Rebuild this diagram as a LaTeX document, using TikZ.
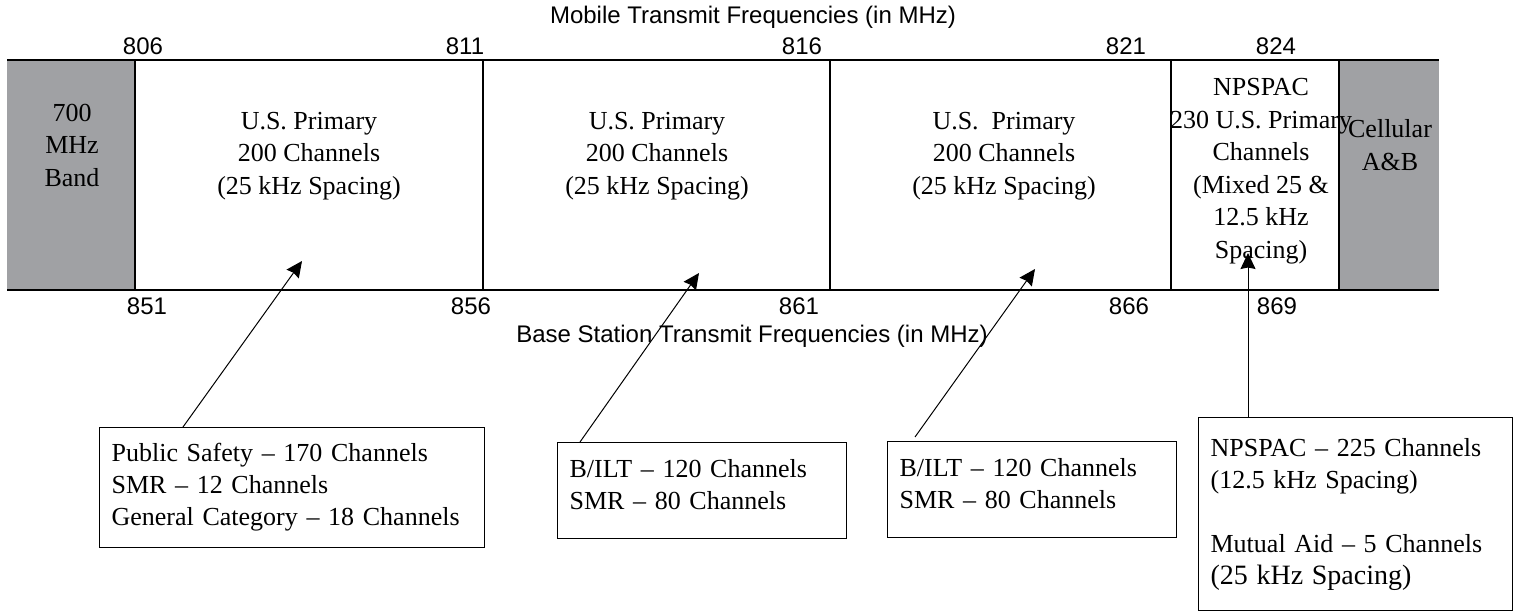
\documentclass[tikz,border=0pt]{standalone}
\usepackage{fontspec}
\setmainfont{Liberation Serif}
\newfontfamily\freqfont{Liberation Sans}
\usetikzlibrary{arrows.meta}
\definecolor{bandgray}{RGB}{160,161,164}
\tikzstyle{arr}=[-{Stealth[length=16pt,width=15pt,inset=1.5pt]},line width=1pt]
\tikzstyle{frame}=[line width=1.2pt]
\tikzstyle{freq}=[font=\freqfont\fontsize{24}{28}\selectfont,inner sep=0pt]
\tikzstyle{celltext}=[align=center,inner sep=0pt,
  font=\fontsize{26}{32.5}\selectfont]
\tikzstyle{infobox}=[draw,line width=1.2pt,anchor=north west,align=left,
  inner xsep=12pt,inner ysep=0pt,font=\fontsize{26}{32}\selectfont]
\newcommand\bandtop{60}
\newcommand\bandbot{290}

\begin{document}
\begin{tikzpicture}[x=1pt,y=-1pt]
  \useasboundingbox (0,0) rectangle (1520,613);

  % the band itself
  \fill[bandgray] (7,\bandtop) rectangle (135,\bandbot);
  \fill[bandgray] (1339,\bandtop) rectangle (1439,\bandbot);
  \draw[frame] (7,\bandtop) -- (1439,\bandtop);
  \draw[frame] (7,\bandbot) -- (1439,\bandbot);
  \foreach \x in {135,483,830,1171,1339}
    \draw[frame] (\x,\bandtop) -- (\x,\bandbot);

  \node[celltext] (band700) at (72,145) {700\\MHz\\Band};
  \foreach \n/\x/\t in {pri1/309/{U.S. Primary}, pri2/657/{U.S. Primary},
                        pri3/1004/{U.S.~~Primary}}
    \node[celltext] (\n) at (\x,156) {\t\\200 Channels\\(25 kHz Spacing)};
  \node[celltext] (npspac) at (1261,171)
    {NPSPAC\\230 U.S. Primary\\Channels\\(Mixed 25 \&\\12.5 kHz\\Spacing)};
  \node[celltext] (cellular) at (1390,145) {Cellular\\A\&B};

  % frequency scales
  \node[freq] (mobile) at (753,17) {Mobile Transmit Frequencies (in MHz)};
  \foreach \f/\x in {806/143, 811/465, 816/802, 821/1126, 824/1276}
    \node[freq] (m\f) at (\x,46) {\f};
  \foreach \f/\x in {851/147, 856/471, 861/799, 866/1129, 869/1277}
    \node[freq] (b\f) at (\x,306) {\f};
  \node[freq] (base) at (752,336) {Base Station Transmit Frequencies (in MHz)};

  % boxes below
  \node[infobox,text width=361pt,minimum height=120pt] (pubbox) at (99,427)
    {Public Safety -- 170 Channels\\SMR -- 12 Channels\\General Category -- 18 Channels};
  \node[infobox,text width=265pt,minimum height=96pt,text depth=44pt] (biltA) at (557,442)
    {B/ILT -- 120 Channels\\SMR -- 80 Channels};
  \node[infobox,text width=265pt,minimum height=96pt,text depth=44pt] (biltB) at (887,441)
    {B/ILT -- 120 Channels\\SMR -- 80 Channels};
  \node[infobox,text width=290pt,minimum height=193pt] (npbox) at (1198,417)
    {NPSPAC -- 225 Channels\\(12.5 kHz Spacing)\\[32pt]Mutual Aid -- 5 Channels\\
     {\fontsize{28}{32}\selectfont (25 kHz Spacing)}};

  \coordinate (tip1) at (302,261);
  \coordinate (tip2) at (699,273);
  \coordinate (tip3) at (1035,269);
  \coordinate (tip4) at (1248,253);

  \draw[arr] ([xshift=84pt]pubbox.north west) -- (tip1);
  \draw[arr] ([xshift=23pt]biltA.north west) -- (tip2);
  \draw[arr] ([xshift=28pt,yshift=4pt]biltB.north west) -- (tip3);
  \draw[arr] ([xshift=50pt]npbox.north west) -- (tip4);
\end{tikzpicture}
\end{document}
